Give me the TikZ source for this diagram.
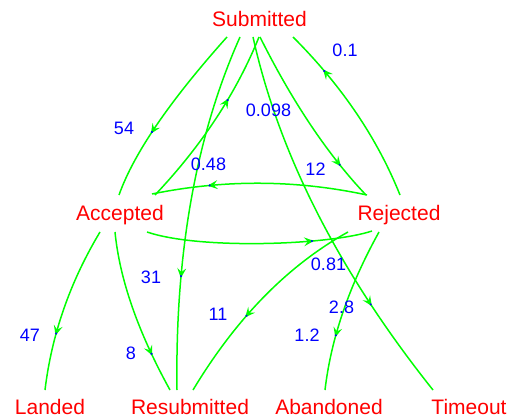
\documentclass[tikz,border=0pt]{standalone}
\usepackage{fontspec}
\setmainfont{Liberation Sans}
\usetikzlibrary{decorations.markings,calc}
\definecolor{edgegreen}{RGB}{0,255,0}
\definecolor{nodered}{RGB}{255,0,0}
\definecolor{labelblue}{RGB}{0,0,255}
\tikzset{
  state/.style={text=nodered, font=\fontsize{21}{25}\selectfont, inner sep=0pt, anchor=base},
  elabel/.style={text=labelblue, font=\fontsize{18}{22}\selectfont, inner sep=0pt, anchor=base},
  edgeline/.style={draw=edgegreen, line width=1.5pt},
  midarrow/.style={postaction={decorate, decoration={markings, mark=at position #1 with {\fill[edgegreen] (0pt,0pt) -- (-10pt,4.5pt) -- (-6pt,0pt) -- (-10pt,-4.5pt) -- cycle; \fill[labelblue] (-2pt,0pt) circle (1.2pt);}}}}
}
\newcommand{\qedge}[4]{\draw[edgeline, midarrow=#4] #1 .. controls ($#1!0.667!#2$) and ($#3!0.667!#2$) .. #3;}
\begin{document}
\begin{tikzpicture}[x=1pt,y=-1pt]
\useasboundingbox (0,0) rectangle (510,419);
% states
\node[state] (S) at (259.5,27) {Submitted};
\node[state] (A) at (120,221) {Accepted};
\node[state] (R) at (399,221) {Rejected};
\node[state] (L) at (50,414) {Landed};
\node[state] (Res) at (190,414) {Resubmitted};
\node[state] (Ab) at (329,414) {Abandoned};
\node[state] (T) at (469,414) {Timeout};
% edges
\qedge{([shift={(-32.5,10)}]S.base)}{(141,133)}{([shift={(-1,-26)}]A.base)}{0.64}
\qedge{([shift={(-19.5,10)}]S.base)}{(174,185)}{([shift={(-13,-24)}]Res.base)}{0.69}
\qedge{([shift={(35,-26)}]A.base)}{(225,121)}{([shift={(-0.5,10)}]S.base)}{0.64}
\qedge{([shift={(-6.5,10)}]S.base)}{(292,213)}{([shift={(-36,-24)}]T.base)}{0.74}
\qedge{([shift={(0.5,10)}]S.base)}{(309,135)}{([shift={(-33,-26)}]R.base)}{0.8}
\qedge{([shift={(1,-26)}]R.base)}{(366,110)}{([shift={(33.5,10)}]S.base)}{0.77}
\qedge{([shift={(-32,-26)}]R.base)}{(260,172)}{([shift={(32,-27)}]A.base)}{0.74}
\draw[edgeline, midarrow=0.74] ([shift={(27,11)}]A.base) .. controls (200,250) and (330,245) .. ([shift={(-27,10)}]R.base);
\qedge{([shift={(-20,11)}]A.base)}{(55,307)}{([shift={(-5,-24)}]L.base)}{0.67}
\qedge{([shift={(-5,11)}]A.base)}{(122,303)}{([shift={(-20,-24)}]Res.base)}{0.77}
\qedge{([shift={(-51,11)}]R.base)}{(258,282)}{([shift={(3,-24)}]Res.base)}{0.6}
\qedge{([shift={(-20,11)}]R.base)}{(334,313)}{([shift={(-4,-24)}]Ab.base)}{0.68}
% labels
\node[elabel] (l54) at (124,135) {54};
\node[elabel] (l01) at (345,57) {0.1};
\node[elabel] (l0098) at (268.5,117) {0.098};
\node[elabel] (l048) at (208.5,171) {0.48};
\node[elabel] (l12) at (315.5,176) {12};
\node[elabel] (l081) at (328.5,270) {0.81};
\node[elabel] (l31) at (151,283) {31};
\node[elabel] (l11) at (218,320) {11};
\node[elabel] (l28) at (341.5,313) {2.8};
\node[elabel] (l47) at (30,341) {47};
\node[elabel] (l8) at (131,359) {8};
\node[elabel] (l12b) at (307,341) {1.2};
\end{tikzpicture}
\end{document}
